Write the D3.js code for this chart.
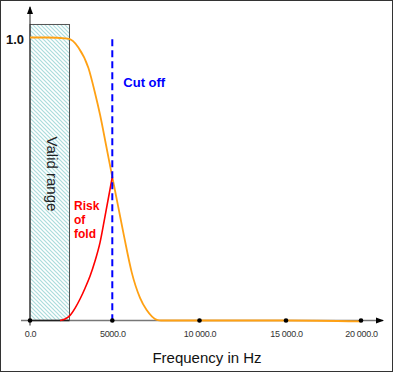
<!DOCTYPE html>
<html>
<head>
<meta charset="utf-8">
<script src="https://cdn.jsdelivr.net/npm/d3@7"></script>
<style>
  body { margin: 0; background: #fff; }
  svg { display: block; font-family: Arial, "Liberation Sans", sans-serif; }
</style>
</head>
<body>
<div id="chart"></div>
<script>
// x axis ticks
const tickFreqs = [0, 5000, 10000, 15000, 20000];
const tickLabels = ['0.0', '5000.0', '10 000.0', '15 000.0', '20 000.0'];

// filter response (orange)
const responseFreq = [0, 1000, 2300, 2940, 3550, 3950, 4260, 4620, 5000, 5330, 5670, 6110, 6590, 6970, 7280, 7560, 7800, 10000, 15000, 20000];
const responseGain = [1.0, 1.0, 0.996, 0.965, 0.892, 0.804, 0.726, 0.620, 0.507, 0.405, 0.299, 0.171, 0.080, 0.037, 0.014, 0.002, 0, 0, 0, -0.003];

// folded part (red)
const foldFreq = [1830, 2130, 2430, 2740, 3040, 3350, 3650, 3950, 4260, 4560, 5000];
const foldGain = [0, 0.005, 0.018, 0.044, 0.076, 0.115, 0.157, 0.210, 0.277, 0.369, 0.507];

const validRange = [0, 2400];
const validTop = 1.046;
const cutOff = 5000;

const width = 394, height = 373;

const svg = d3.select('#chart').append('svg')
    .attr('width', width)
    .attr('height', height);

const defs = svg.append('defs');

// hatch for the valid range box
const hatch = defs.append('pattern')
    .attr('id', 'hatch')
    .attr('patternUnits', 'userSpaceOnUse')
    .attr('width', 4)
    .attr('height', 4);
hatch.append('rect').attr('width', 4).attr('height', 4).attr('fill', '#ffffff');
hatch.append('path')
    .attr('d', 'M-1,-1 L5,5 M-1,3 L1,5 M3,-1 L5,1')
    .attr('stroke', '#abdcdc')
    .attr('stroke-width', 1.2);

defs.append('marker')
    .attr('id', 'arrow')
    .attr('viewBox', '0 -4 8 8')
    .attr('refX', 7)
    .attr('refY', 0)
    .attr('markerWidth', 8)
    .attr('markerHeight', 8)
    .attr('markerUnits', 'userSpaceOnUse')
    .attr('orient', 'auto')
    .append('path')
    .attr('d', 'M0,-3L8,0L0,3Z')
    .attr('fill', '#000');

// outer frame
svg.append('rect')
    .attr('x', 0.5).attr('y', 0.5)
    .attr('width', 392).attr('height', 371)
    .attr('fill', 'none')
    .attr('stroke', '#333')
    .attr('stroke-width', 1);

// scales
const x = d3.scaleLinear()
    .domain(tickFreqs)
    .range([30, 112.3, 199.5, 286, 361]);

const y = d3.scaleLinear()
    .domain([0, 1])
    .range([320.5, 37.5]);

// valid range box
svg.append('rect')
    .attr('x', x(validRange[0]))
    .attr('y', y(validTop))
    .attr('width', x(validRange[1]) - x(validRange[0]))
    .attr('height', y(0) - y(validTop))
    .attr('fill', 'url(#hatch)')
    .attr('stroke', '#555')
    .attr('stroke-width', 1);

svg.append('text')
    .attr('transform', `translate(${(x(validRange[0]) + x(validRange[1])) / 2 + 1}, 174) rotate(90)`)
    .attr('text-anchor', 'middle')
    .attr('dominant-baseline', 'middle')
    .style('font-size', '15px')
    .style('fill', '#222')
    .text('Valid range');

// x axis line
svg.append('line')
    .attr('x1', 21).attr('x2', 383)
    .attr('y1', y(0)).attr('y2', y(0))
    .attr('stroke', '#777')
    .attr('stroke-width', 1.5)
    .attr('marker-end', 'url(#arrow)');

svg.append('line')
    .attr('x1', x(validRange[0])).attr('x2', x(validRange[1]))
    .attr('y1', y(0)).attr('y2', y(0))
    .attr('stroke', '#222')
    .attr('stroke-width', 1.5);

// y axis line
svg.append('line')
    .attr('x1', x(0)).attr('x2', x(0))
    .attr('y1', y(0) + 5).attr('y2', 7)
    .attr('stroke', '#222')
    .attr('stroke-width', 1)
    .attr('marker-end', 'url(#arrow)');

// tick labels
const xAxis = svg.append('g')
    .attr('transform', `translate(0, ${y(0)})`)
    .call(d3.axisBottom(x)
        .tickValues(tickFreqs)
        .tickFormat((d, i) => tickLabels[i])
        .tickSize(0)
        .tickPadding(10));
xAxis.select('.domain').remove();
xAxis.selectAll('text')
    .style('font-family', 'Arial, "Liberation Sans", sans-serif')
    .style('font-size', '9px')
    .style('letter-spacing', '-0.3px')
    .style('fill', '#333');

svg.append('text')
    .attr('x', x(0) - 6)
    .attr('y', y(1) + 6)
    .attr('text-anchor', 'end')
    .style('font-size', '13px')
    .style('font-weight', 'bold')
    .style('fill', '#111')
    .text('1.0');

svg.append('text')
    .attr('x', 207)
    .attr('y', 363)
    .attr('text-anchor', 'middle')
    .style('font-size', '15px')
    .style('fill', '#111')
    .text('Frequency in Hz');

// curves
const line = d3.line()
    .x(d => x(d[0]))
    .y(d => y(d[1]))
    .curve(d3.curveMonotoneX);

svg.append('path')
    .datum(responseFreq.map((f, i) => [f, responseGain[i]]))
    .attr('d', line)
    .attr('fill', 'none')
    .attr('stroke', '#ffa114')
    .attr('stroke-width', 1.8);

svg.append('path')
    .datum(foldFreq.map((f, i) => [f, foldGain[i]]))
    .attr('d', line)
    .attr('fill', 'none')
    .attr('stroke', '#ff0000')
    .attr('stroke-width', 1.6);

// cut off
svg.append('line')
    .attr('x1', x(cutOff)).attr('x2', x(cutOff))
    .attr('y1', y(0.994)).attr('y2', y(0))
    .attr('stroke', '#0000ff')
    .attr('stroke-width', 2)
    .attr('stroke-dasharray', '7,4');

svg.append('text')
    .attr('x', x(cutOff) + 11)
    .attr('y', 87)
    .style('font-size', '13px')
    .style('font-weight', 'bold')
    .style('fill', '#0000ff')
    .text('Cut off');

svg.append('text')
    .attr('x', 74)
    .attr('y', 210)
    .style('font-size', '12px')
    .style('font-weight', 'bold')
    .style('fill', '#ff0000')
    .selectAll('tspan')
    .data(['Risk', 'of', 'fold'])
    .enter()
    .append('tspan')
    .attr('x', 74)
    .attr('dy', (d, i) => i === 0 ? 0 : 14)
    .text(d => d);

// tick dots
svg.append('g')
    .selectAll('circle')
    .data(tickFreqs)
    .enter()
    .append('circle')
    .attr('cx', d => x(d))
    .attr('cy', y(0))
    .attr('r', 2.3)
    .attr('fill', '#000');
</script>
</body>
</html>
